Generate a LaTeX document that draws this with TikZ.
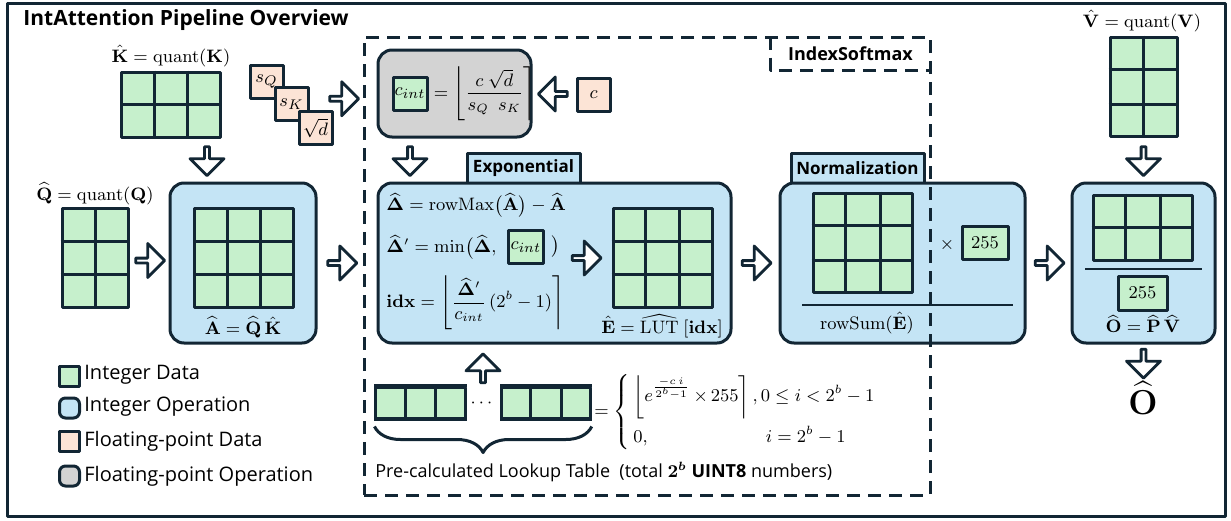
\documentclass[tikz,border=0pt]{standalone}
\usepackage{amsmath}
\usepackage{amssymb}
\usepackage[no-math]{fontspec}
\setmainfont{Open Sans}
\usepackage{xcolor}
\usepackage{tikz}
\usetikzlibrary{arrows.meta,positioning,calc,shapes.arrows,decorations.pathreplacing}
\definecolor{ink}{RGB}{18,38,52}
\definecolor{intdata}{RGB}{198,240,204}
\definecolor{intop}{RGB}{196,228,245}
\definecolor{fpdata}{RGB}{252,228,214}
\definecolor{fpop}{RGB}{211,211,211}
\tikzset{
	grid box/.style={draw=ink, fill=intdata, line width=1.5pt, inner sep=0pt},
	grid line/.style={draw=ink, line width=1.5pt},
	opbox/.style={draw=ink, line width=1.5pt, rounded corners=7pt, inner sep=0pt},
	databox/.style={draw=ink, line width=1.5pt, inner sep=0pt, font=\fontsize{9.5}{11}\selectfont},
	tab/.style={draw=ink, fill=intop, line width=1.5pt, inner sep=0pt, minimum height=15pt, font=\fontsize{8.5}{10}\selectfont\bfseries},
	hollow/.style={draw=ink, fill=white, line width=1.4pt, single arrow, single arrow head extend=4.25pt, minimum height=14.5pt, minimum width=17pt, inner sep=0pt},
	eq/.style={inner sep=0pt, font=\fontsize{9}{11}\selectfont},
	legend/.style={inner sep=0pt, anchor=west, font=\fontsize{10}{12}\selectfont},
	caption/.style={inner sep=0pt, anchor=west, font=\fontsize{9}{11}\selectfont},
	swatch/.style={draw=ink, line width=1.5pt, minimum size=10pt, inner sep=0pt},
	dashline/.style={draw=ink, line width=1.5pt, dash pattern=on 6.5pt off 4pt},
	rule/.style={draw=ink, line width=1.3pt}
}
\newcommand{\datagrid}[6]{% name, centre, columns, rows, cell width, cell height (px)
	\node[grid box, minimum width=#3*#5*0.5pt, minimum height=#4*#6*0.5pt] (#1) at #2 {};
	\pgfmathtruncatemacro{\gcols}{#3-1}\pgfmathtruncatemacro{\grows}{#4-1}
	\foreach \k in {1,...,\gcols}
		\draw[grid line] ($(#1.north west)!\k/#3!(#1.north east)$) -- ($(#1.south west)!\k/#3!(#1.south east)$);
	\foreach \k in {1,...,\grows}
		\draw[grid line] ($(#1.north west)!\k/#4!(#1.south west)$) -- ($(#1.north east)!\k/#4!(#1.south east)$);
}

\begin{document}
\begin{tikzpicture}[x=0.5pt, y=-0.5pt, line join=round]
	\useasboundingbox (0,0) rectangle (1231,520);
	\node[draw=ink, line width=1.5pt, minimum width=609pt, minimum height=256.5pt, inner sep=0pt] (frame) at (616,259.5) {};
	\node[anchor=west, inner sep=0pt, font=\fontsize{10.5}{13}\selectfont\bfseries] (title) at (23,20) {IntAttention Pipeline Overview};

	% quantised inputs
	\node[eq] (klabel) at (171,56) {$\hat{\mathbf{K}} = \mathrm{quant}(\mathbf{K})$};
	\datagrid{Kg}{(171,104.5)}{3}{2}{32.7}{32.5}
	\node[eq] (qlabel) at (95,194) {$\widehat{\mathbf{Q}} = \mathrm{quant}(\mathbf{Q})$};
	\datagrid{Qg}{(95,258)}{2}{3}{33}{32.7}
	\node[databox, fill=fpdata, minimum size=16.5pt] (sq) at (266.5,81.5) {$s_Q$};
	\node[databox, fill=fpdata, minimum size=16.5pt] (sk) at (291.5,104) {$s_K$};
	\node[databox, fill=fpdata, minimum size=16.5pt] (sd) at (315.5,128) {$\sqrt{d}$};

	% A = Q K
	\node[opbox, fill=intop, minimum width=73pt, minimum height=80pt] (Abox) at (243,263) {};
	\datagrid{Ag}{(244,258)}{3}{3}{32.7}{32.7}
	\node[eq] (alabel) at (243,327) {$\widehat{\mathbf{A}} = \widehat{\mathbf{Q}}\,\hat{\mathbf{K}}$};

	% c_int
	\node[opbox, fill=fpop, minimum width=76.5pt, minimum height=43.5pt] (gray) at (454.5,93.5) {};
	\node[databox, fill=intdata, minimum width=17pt, minimum height=16.5pt] (cint) at (410,93.5) {$c_{int}$};
	\node[eq, right=2.5pt of cint] (cform) {$= \left\lfloor \dfrac{c\ \sqrt{d}}{s_Q\ \ s_K} \right\rceil$};
	\node[databox, fill=fpdata, minimum size=16.5pt] (cc) at (593.5,94.5) {$c$};

	% exponential
	\node[tab, minimum width=56.5pt] (exptab) at (523.5,168) {Exponential};
	\node[opbox, fill=intop, minimum width=176.5pt, minimum height=80pt] (Exp) at (554.5,263) {};
	\node[eq, anchor=west] (l1) at (386,205) {$\widehat{\mathbf{\Delta}} = \mathrm{rowMax}\bigl(\widehat{\mathbf{A}}\bigr) - \widehat{\mathbf{A}}$};
	\node[eq, anchor=west] (l2) at (386,247) {$\widehat{\mathbf{\Delta}}' = \min\bigl(\widehat{\mathbf{\Delta}},$};
	\node[databox, fill=intdata, minimum width=17.5pt, minimum height=16.5pt, right=5pt of l2] (cint2) {$c_{int}$};
	\node[eq, right=3pt of cint2] (cpar) {$\bigr)$};
	\node[eq, anchor=west] (l3) at (386,303) {$\mathbf{idx} = \left\lfloor \dfrac{\widehat{\mathbf{\Delta}}'}{c_{int}}\,(2^b-1)\right\rceil$};
	\datagrid{Eg}{(662.5,258)}{3}{3}{33}{32.7}
	\node[eq] (elabel) at (662,326) {$\hat{\mathbf{E}} = \widehat{\mathrm{LUT}}\ [\mathbf{idx}]$};

	% normalization
	\node[tab, minimum width=66.5pt] (normtab) at (857.5,168) {Normalization};
	\node[opbox, fill=intop, minimum width=122.5pt, minimum height=80pt] (Norm) at (902.5,263) {};
	\datagrid{Ng}{(863,243)}{3}{3}{33.3}{33.3}
	\node[eq] (times) at (947,245) {$\times$};
	\node[databox, fill=intdata, minimum width=23pt, minimum height=16.5pt] (n255) at (985,242.5) {$255$};
	\draw[rule] (802,305) -- (1013,305);
	\node[eq] (nlabel) at (867,323) {$\mathrm{rowSum}(\hat{\mathbf{E}})$};

	% IndexSoftmax frame
	\node[dashline, minimum width=283pt, minimum height=229pt, inner sep=0pt] (smx) at (647,266) {};
	\node[inner sep=0pt, minimum width=79.5pt, minimum height=16.5pt, font=\fontsize{9}{11}\selectfont\bfseries] (smxtab) at (850.5,53.5) {IndexSoftmax};
	\draw[dashline] (smxtab.north west) -- (smxtab.south west) -- (smxtab.south east);

	% output
	\node[eq] (vlabel) at (1142,21) {$\hat{\mathbf{V}} = \mathrm{quant}(\mathbf{V})$};
	\datagrid{Vg}{(1143.5,87)}{2}{3}{33.5}{33.3}
	\node[opbox, fill=intop, minimum width=71.5pt, minimum height=80pt] (Out) at (1143.5,263) {};
	\datagrid{Og}{(1143,227.5)}{3}{2}{33.3}{32.5}
	\draw[rule] (1085,269) -- (1202,269);
	\node[databox, fill=intdata, minimum width=24.5pt, minimum height=17pt] (o255) at (1142.5,293) {$255$};
	\node[eq] (olabel) at (1143,324) {$\widehat{\mathbf{O}} = \widehat{\mathbf{P}}\,\widehat{\mathbf{V}}$};
	\node[inner sep=0pt, font=\fontsize{16}{18}\selectfont] (ohat) at (1143,398) {$\widehat{\mathbf{O}}$};

	% lookup table
	\datagrid{lutL}{(420.5,402.5)}{3}{1}{29.7}{31}
	\datagrid{lutR}{(546,402.5)}{3}{1}{29.5}{31}
	\node[eq] (dots) at (483,403) {$\cdots$};
	\node[eq, anchor=west] (lutdef) at (594,412) {$=\left\{\begin{array}{@{\,}l@{\,}l@{}}
		\left\lfloor e^{\frac{-c\,i}{2^b-1}}\,{\textstyle\times}\,255\right\rceil, & 0\le i<2^b-1\\[9pt]
		0, & \;i=2^b-1
	\end{array}\right.$};
	\draw[ink, line width=1.5pt, decorate, decoration={brace, mirror, amplitude=13pt}] ($(lutL.south west)+(0,7)$) -- ($(lutR.south east)+(0,7)$);
	\node[caption] (lutcap) at (375,472) {Pre-calculated Lookup Table\ \ (total $\mathbf{2}^{\boldsymbol{b}}$ \textbf{UINT8} numbers)};

	% legend
	\node[swatch, fill=intdata] (sw1) at (69.5,376) {};
	\node[legend] at (84,375) {Integer Data};
	\node[swatch, fill=intop, rounded corners=3pt] (sw2) at (69.5,408) {};
	\node[legend] at (84,407) {Integer Operation};
	\node[swatch, fill=fpdata] (sw3) at (69.5,441) {};
	\node[legend] at (84,441) {Floating-point Data};
	\node[swatch, fill=fpop, rounded corners=3pt] (sw4) at (69.5,476) {};
	\node[legend] at (84,476) {Floating-point Operation};

	% block arrows
	\node[hollow, rotate=-90] (a1) at ($(Kg.south)!0.5!(Abox.north)$) {};
	\node[hollow] (a2) at ($(Qg.east)!0.5!(Abox.west)$) {};
	\node[hollow] (a3) at ($(sk.east)!0.5!(gray.west)$) {};
	\node[hollow] (a4) at ($(Abox.east)!0.4!(Exp.west)$) {};
	\node[hollow, rotate=180] (a5) at ($(gray.east)!0.5!(cc.west)$) {};
	\coordinate (gmid) at ($(gray.south)!0.5!(Exp.north)$);
	\node[hollow, rotate=-90] (a6) at (gmid -| cint) {};
	\node[hollow] (a7) at ($(Eg.west)+(-26,0)$) {};
	\node[hollow] (a8) at ($(Exp.east)!0.5!(Norm.west)$) {};
	\node[hollow] (a9) at ($(Norm.east)!0.5!(Out.west)$) {};
	\node[hollow, rotate=-90] (a10) at ($(Vg.south)!0.5!(Out.north)$) {};
	\node[hollow, rotate=-90] (a11) at ($(Out.south)+(0,18)$) {};
	\node[hollow, rotate=90] (a12) at ($(Exp.south -| dots)+(0,25)$) {};
\end{tikzpicture}
\end{document}
